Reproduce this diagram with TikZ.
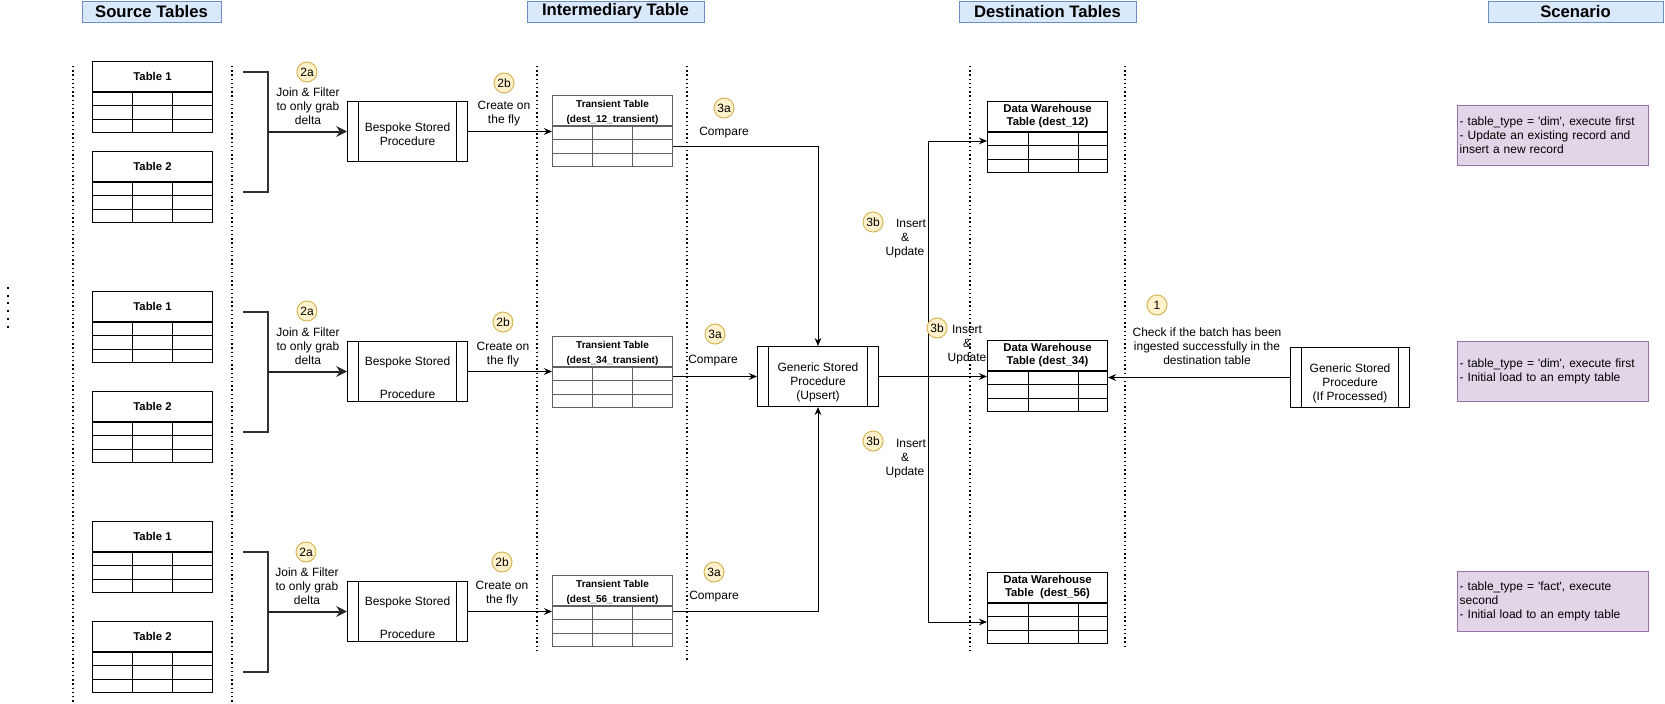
\documentclass[tikz,border=0pt]{standalone}
\usepackage{fontspec}
\setmainfont{Liberation Sans}
\usetikzlibrary{calc, positioning, arrows.meta}
\definecolor{hdrfill}{HTML}{DAE8FC}
\definecolor{hdrline}{HTML}{6C8EBF}
\definecolor{stepfill}{HTML}{FFF2CC}
\definecolor{stepline}{HTML}{D6B656}
\definecolor{notefill}{HTML}{E1D5E7}
\definecolor{noteline}{HTML}{9673A6}
\tikzset{
    header/.style={rectangle, draw=hdrline, fill=hdrfill, inner sep=0pt, minimum height=15.75pt, font=\fontsize{12.5}{14}\selectfont\bfseries},
    badge/.style={circle, draw=stepline, fill=stepfill, minimum size=15pt, inner sep=0pt},
    sep/.style={line width=1.1pt, dash pattern=on 1.1pt off 2.05pt},
    brace/.style={line width=1.5pt, black!80},
    fat/.style={-{Stealth[length=8pt, width=8pt]}, line width=1.5pt, black!85},
    txt/.style={align=center, inner sep=0pt}
}

\begin{document}
\begin{tikzpicture}[
    x=0.75pt, y=-0.75pt,
    font=\fontsize{9}{10.5}\selectfont,
    >={Stealth[length=6pt, width=5pt]},
    line width=0.75pt,
    gridline/.style={},
    tblhead/.style={
        rectangle, draw, anchor=north west, inner sep=0pt,
        minimum width=90pt, minimum height=22.5pt, align=center,
        font=\fontsize{8.5}{9.75}\selectfont\bfseries
    },
    tblrows/.style 2 args={
        rectangle, draw, anchor=north, inner sep=0pt,
        minimum width=90pt, minimum height=30pt,
        path picture={
            \foreach \f in {0.333, 0.667}
                \draw[gridline] ($(path picture bounding box.north west)!\f!(path picture bounding box.south west)$) -- ($(path picture bounding box.north east)!\f!(path picture bounding box.south east)$);
            \foreach \f in {#1, #2}
                \draw[gridline] ($(path picture bounding box.north west)!\f!(path picture bounding box.north east)$) -- ($(path picture bounding box.south west)!\f!(path picture bounding box.south east)$);
        }
    },
    transient/.style={
        draw=black!62, gridline/.style={black!62},
        font=\fontsize{7.5}{11}\selectfont\bfseries
    },
    proc/.style={
        rectangle, draw, anchor=north west, inner sep=0pt,
        minimum width=90pt, minimum height=45pt, align=center,
        path picture={
            \draw ([xshift=8.6pt]path picture bounding box.north west) -- ([xshift=8.6pt]path picture bounding box.south west);
            \draw ([xshift=-8.6pt]path picture bounding box.north east) -- ([xshift=-8.6pt]path picture bounding box.south east);
        }
    },
    note/.style={
        rectangle, draw=noteline, fill=notefill, anchor=north west,
        minimum width=143.25pt, minimum height=45pt,
        inner xsep=1pt, inner ysep=0pt, text width=140pt, align=left
    }
]
    \useasboundingbox (0,0) rectangle (1665,703);

    % 1. HEADERS
    \node[header, minimum width=104.25pt] (hsrc) at (151.5,11.5) {Source Tables};
    \node[header, minimum width=132.75pt] (hint) at (615.5,11.5) {Intermediary Table};
    \node[header, minimum width=132.75pt] (hdst) at (1047.5,11.5) {Destination Tables};
    \node[header, minimum width=131.25pt] (hscn) at (1575.5,11.5) {Scenario};

    % 2. DOTTED SEPARATORS
    \foreach \x/\yend in {73/703, 232/703, 537/650, 687/661, 970/650, 1125/647}
        \draw[sep] (\x,66) -- (\x,\yend);
    \draw[line width=1.5pt, dash pattern=on 1.5pt off 4.3pt] (8,287) -- (8,328);

    % 3. SOURCE TABLES
    \foreach \k/\ya/\yb in {1/61/151, 2/291/391, 3/521/621} {
        \node[tblhead] (src\k-1) at (92,\ya) {Table 1};
        \node[tblrows={0.333}{0.667}] (src\k-1rows) at (src\k-1.south) {};
        \node[tblhead] (src\k-2) at (92,\yb) {Table 2};
        \node[tblrows={0.333}{0.667}] (src\k-2rows) at (src\k-2.south) {};
    }

    % 4. BESPOKE PROCEDURES (join & filter)
    \node[proc] (bsp1) at (347,101) {\rule{0pt}{10.5pt}Bespoke Stored\\Procedure};
    \node[proc] (bsp2) at (347,341) {\rule{0pt}{15.5pt}Bespoke Stored\\[14pt]Procedure};
    \node[proc] (bsp3) at (347,581) {\rule{0pt}{15.5pt}Bespoke Stored\\[14pt]Procedure};
    \foreach \k in {1,2,3} {
        \coordinate (brk\k) at ($(bsp\k.west)+(-79,0)$);
        \draw[brace] (brk\k) ++(-25,-60) -- ++(25,0) -- ++(0,120) -- ++(-25,0);
        \draw[fat] (brk\k) -- (bsp\k.west);
    }

    % 5. TRANSIENT TABLES (create on the fly)
    \foreach \k/\y/\dst in {1/95/12, 2/336/34, 3/575/56} {
        \node[tblhead, transient] (tmp\k) at (552,\y) {\rule{0pt}{8.5pt}Transient Table\\(dest\_\dst\_transient)};
        \node[tblrows={0.333}{0.667}, transient] (tmp\k-rows) at (tmp\k.south) {};
        \draw[->] (bsp\k.east) -- (bsp\k.east -| tmp\k-rows.west);
    }

    % 6. GENERIC UPSERT
    \node[proc, minimum width=90.75pt] (gen) at (757,346) {\rule{0pt}{16pt}Generic Stored\\Procedure\\(Upsert)};
    \draw[->] (tmp1-rows.east) -| (gen.north);
    \draw[->] (tmp2-rows.east |- gen.west) -- (gen.west);
    \draw[->] (tmp3-rows.east |- bsp3.east) -| (gen.south);

    % 7. DATA WAREHOUSE TABLES
    \foreach \k/\y/\ttl in {1/101/{Table (dest\_12)}, 2/340/{Table (dest\_34)}, 3/572/{Table\ \ (dest\_56)}} {
        \node[tblhead] (dw\k) at (987,\y) {Data Warehouse\\\ttl};
        \node[tblrows={0.342}{0.758}] (dw\k-rows) at (dw\k.south) {};
    }
    \coordinate (trunk) at ($(gen.east)+(49,0)$);
    \draw[->] (gen.east) -- (gen.east -| dw2-rows.west);
    \draw[->] (trunk) |- ($(dw1-rows.north west)+(0,9)$);
    \draw[->] (trunk) |- ($(dw3-rows.north west)+(0,19)$);

    % 8. CHECK PROCEDURE
    \node[proc, minimum width=89.25pt] (chk) at (1290,347) {\rule{0pt}{16pt}Generic Stored\\Procedure\\(If Processed)};
    \draw[->] (chk.west) -- (chk.west -| dw2-rows.east);

    % 9. STEP BADGES AND LABELS
    \node[badge] (s2a1) at (307,72) {2a};
    \node[badge] (s2a2) at (307,311) {2a};
    \node[badge] (s2a3) at (306,552) {2a};
    \node[txt] (join1) at (308,106) {Join \& Filter\\to only grab\\delta};
    \node[txt] (join2) at (308,346) {Join \& Filter\\to only grab\\delta};
    \node[txt] (join3) at (307,586) {Join \& Filter\\to only grab\\delta};

    \node[badge] (s2b1) at (504,83) {2b};
    \node[badge] (s2b2) at (503,322) {2b};
    \node[badge] (s2b3) at (502,562) {2b};
    \node[txt] (fly1) at (504,114) {Create on\\the fly};
    \node[txt] (fly2) at (503,355) {Create on\\the fly};
    \node[txt] (fly3) at (502,594) {Create on\\the fly};

    \node[badge] (s3a1) at (724,108) {3a};
    \node[badge] (s3a2) at (715,334) {3a};
    \node[badge] (s3a3) at (714,572) {3a};
    \node[txt] (cmp1) at (724,133) {Compare};
    \node[txt] (cmp2) at (713,361) {Compare};
    \node[txt] (cmp3) at (714,597) {Compare};

    \node[badge] (s3b1) at (873,222) {3b};
    \node[badge] (s3b2) at (937,328) {3b};
    \node[badge] (s3b3) at (873,441) {3b};
    \node[txt] (ups1) at (905,239) {\hspace*{9pt}Insert\\\&\\Update};
    \node[txt] (ups2) at (967,345) {Insert\\\&\\Update};
    \node[txt] (ups3) at (905,459) {\hspace*{9pt}Insert\\\&\\Update};

    \node[badge] (s1) at (1157,305) {1};
    \node[txt] (chktxt) at (1207,346) {Check if the batch has been\\ingested successfully in the\\destination table};

    % 10. SCENARIO NOTES
    \node[note] (scn1) at (1457,105) {- table\_type = \textquotesingle dim\textquotesingle, execute first\\- Update an existing record and\\insert a new record};
    \node[note] (scn2) at (1457,341) {- table\_type = \textquotesingle dim\textquotesingle, execute first\\- Initial load to an empty table};
    \node[note] (scn3) at (1457,571) {- table\_type = \textquotesingle fact\textquotesingle, execute\\second\\- Initial load to an empty table};

\end{tikzpicture}
\end{document}
